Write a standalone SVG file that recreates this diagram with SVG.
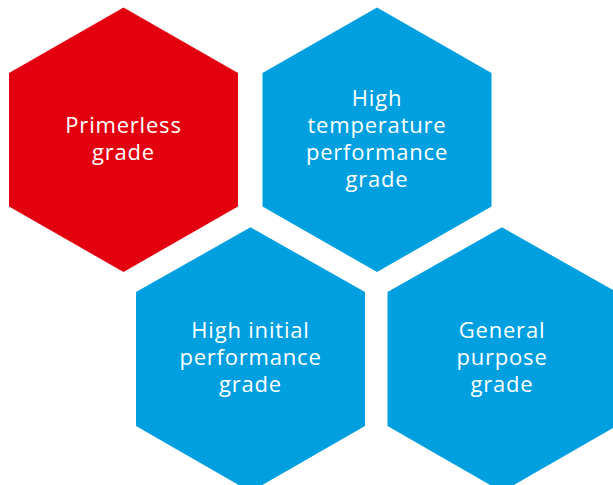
<svg xmlns="http://www.w3.org/2000/svg" width="613" height="485" viewBox="0 0 613 485">
<style>
.red{fill:#E3000F}
.blue{fill:#009FDF}
.t{fill:#fff;font-family:"Open Sans","Liberation Sans",sans-serif;font-size:22px;letter-spacing:0.8px;text-anchor:middle}
</style>
<rect width="613" height="485" fill="#fff"/>
<g id="primerless">
<polygon class="red" points="123.5,7.5 238,73 238,206.5 123.5,272 9,206.5 9,73"/>
<text class="t" x="123.5" y="133">Primerless</text>
<text class="t" x="123.5" y="160">grade</text>
</g>
<g id="high-temperature">
<polygon class="blue" points="377,7.5 491.5,73 491.5,206.5 377,272 262.5,206.5 262.5,73"/>
<text class="t" x="377" y="106">High</text>
<text class="t" x="377" y="133">temperature</text>
<text class="t" x="377" y="160">performance</text>
<text class="t" x="377" y="187">grade</text>
</g>
<g id="high-initial">
<polygon class="blue" points="250.5,227.3 365,292 365,426 250.5,491.8 136,426 136,292"/>
<text class="t" x="250.5" y="338">High initial</text>
<text class="t" x="250.5" y="365">performance</text>
<text class="t" x="250.5" y="392">grade</text>
</g>
<g id="general-purpose">
<polygon class="blue" points="502,227.3 616.5,292 616.5,426 502,491.8 387.5,426 387.5,292"/>
<text class="t" x="502" y="338">General</text>
<text class="t" x="502" y="365">purpose</text>
<text class="t" x="502" y="392">grade</text>
</g>
<g id="connectors"></g>
</svg>
